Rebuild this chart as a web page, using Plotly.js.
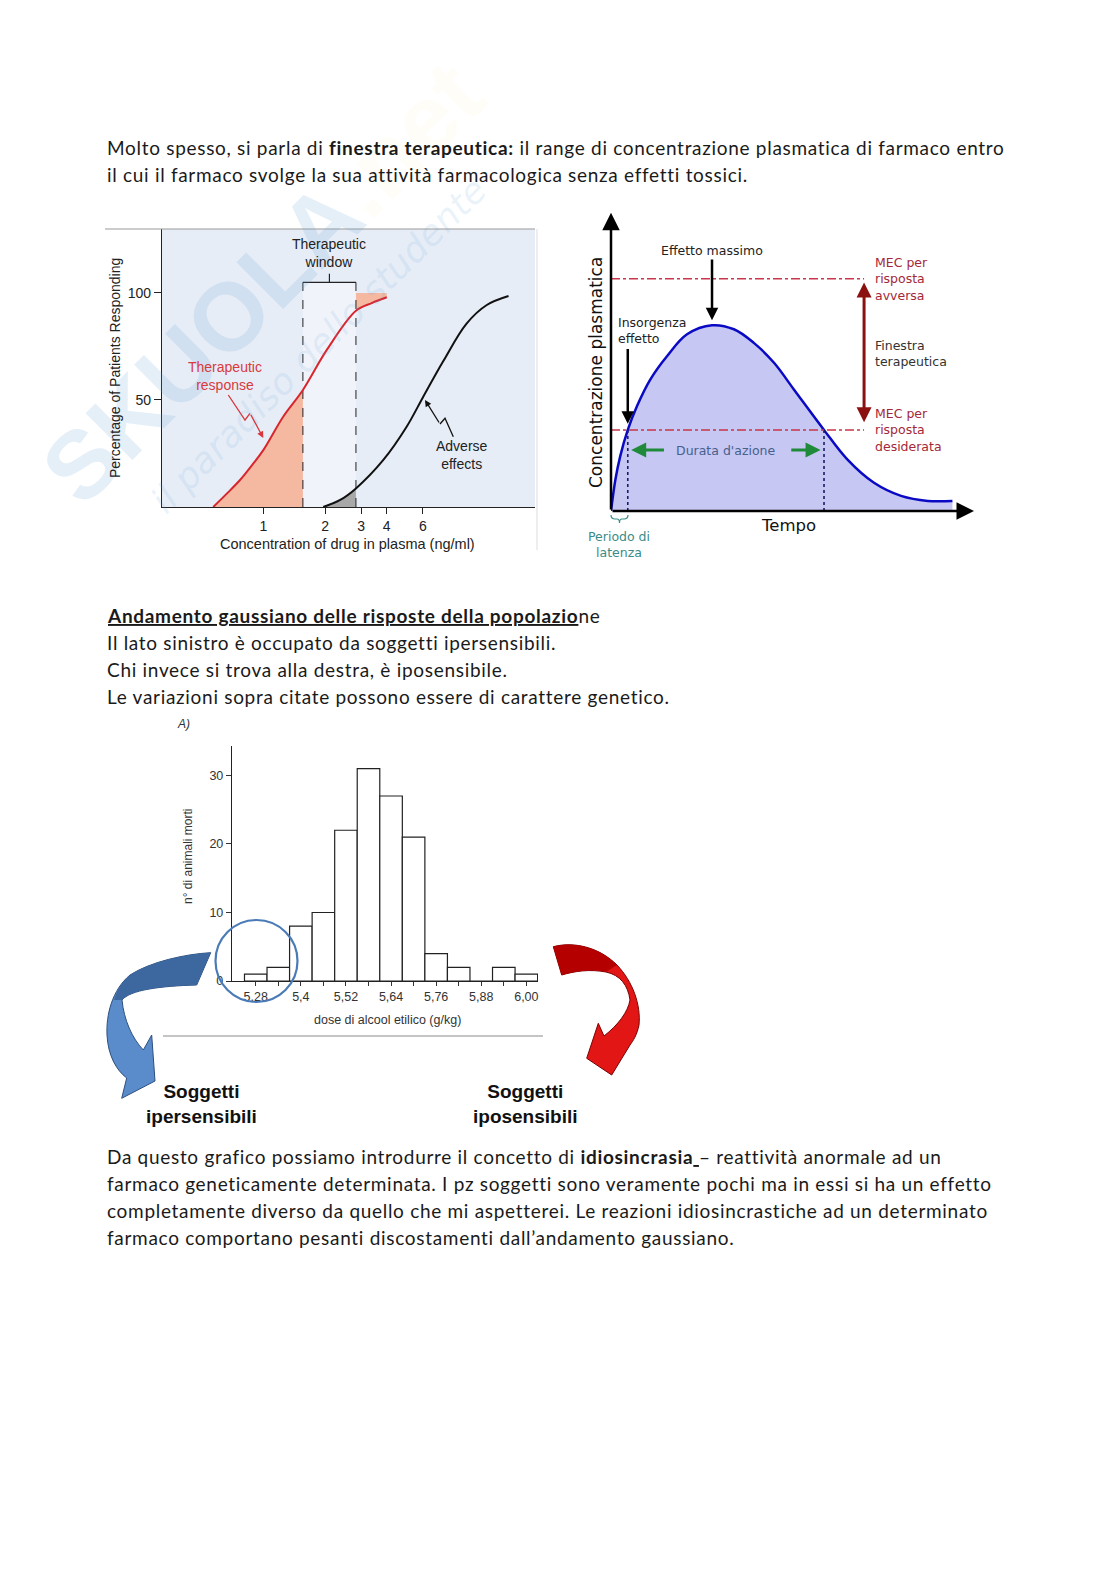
<!DOCTYPE html>
<html><head><meta charset="utf-8">
<script src="https://cdn.plot.ly/plotly-3.0.1.min.js"></script>
<style>html,body{margin:0;padding:0;background:#fff}#page{width:1116px;height:1579px}</style>
</head><body><div id="page"></div>
<script>
// ---------- Chart 1: therapeutic window ----------
const respConc = [0.57, 0.66, 0.77, 0.88, 1.0, 1.25, 1.56, 2.04, 2.83, 3.38, 4.0];
const respPct  = [0, 6, 12.6, 19.5, 26.6, 42.2, 54.7, 73.4, 91.7, 95.3, 98];
const advConc  = [1.96, 2.37, 2.83, 3.85, 5.0, 6.0, 7.55, 9.8, 12.3, 15.7];
const advPct   = [0, 3.3, 8.7, 22, 37.5, 51.2, 68.2, 85.7, 94.4, 98.6];
const windowLow = 1.56, windowHigh = 2.83;
const concTicks = [1, 2, 3, 4, 6];
const pctTicks = [50, 100];

// ---------- Chart 2: plasma concentration vs time ----------
const pkTime = [0, 0.13, 0.27, 0.49, 0.76, 1.15, 1.64, 2.22, 2.95, 3.59, 4.17, 4.76, 5.34, 6.22, 6.90, 7.68, 8.47, 9.25, 9.97];
const pkConc = [0, 1.26, 2.18, 3.22, 4.17, 5.23, 6.16, 7.02, 7.38, 7.22, 6.68, 5.89, 4.83, 3.22, 2.05, 1.12, 0.60, 0.40, 0.40];
const mecDesired = 3.22, mecAdverse = 9.23;
const onsetTime = 0.49, offsetTime = 6.22, peakTime = 2.95, peakConc = 7.38;

// ---------- Chart 3: histogram ----------
const doseBins = [5.28, 5.34, 5.40, 5.46, 5.52, 5.58, 5.64, 5.70, 5.76, 5.82, 5.88, 5.94, 6.00];
const deaths   = [1, 2, 8, 10, 22, 31, 27, 21, 4, 2, 0, 2, 1];
const doseLabels = ["5,28","","5,4","","5,52","","5,64","","5,76","","5,88","","6,00"];
const deathTicks = [0, 10, 20, 30];

// ---------- page text ----------
const para1 = ["Molto spesso, si parla di <b>finestra terapeutica:</b> il range di concentrazione plasmatica di farmaco entro",
               "il cui il farmaco svolge la sua attività farmacologica senza effetti tossici."];
const para2 = ["<b><u>Andamento gaussiano delle risposte della popolazio</u></b>ne",
               "Il lato sinistro è occupato da soggetti ipersensibili.",
               "Chi invece si trova alla destra, è iposensibile.",
               "Le variazioni sopra citate possono essere di carattere genetico."];
const para3 = ["Da questo grafico possiamo introdurre il concetto di <b>idiosincrasia</b><u> </u>– reattività anormale ad un",
               "farmaco geneticamente determinata. I pz soggetti sono veramente pochi ma in essi si ha un effetto",
               "completamente diverso da quello che mi aspetterei. Le reazioni idiosincrastiche ad un determinato",
               "farmaco comportano pesanti discostamenti dall’andamento gaussiano."];

const W = 1116, H = 1579;
const dx = p => p / W, dy = p => 1 - p / H;
const ARIAL = "Liberation Sans, Arial, sans-serif";
const DEJA = "DejaVu Sans, sans-serif";
const BODY = "Lato, Calibri, sans-serif";
const SX = 4, SY = 3; // offset of right-hand figure

const lowPart = respConc.map((c,i)=>[c,respPct[i]]).filter(d=>d[0] <= windowLow);
const highPart = respConc.map((c,i)=>[c,respPct[i]]).filter(d=>d[0] >= windowHigh);
const advLow = advConc.map((c,i)=>[c,advPct[i]]).filter(d=>d[0] <= windowHigh);
const gm = Math.sqrt(windowLow * windowHigh);
const lastResp = respConc[respConc.length-1];

const data = [
  {x:[0], y:[0], xaxis:'x', yaxis:'y', mode:'markers', marker:{opacity:0}, hoverinfo:'skip', showlegend:false},
  // chart 1
  {x:[windowLow, windowHigh, windowHigh, windowLow], y:[0,0,105,105], fill:'toself', fillcolor:'#f0f4fa',
   line:{width:0}, mode:'lines', xaxis:'x2', yaxis:'y2', showlegend:false, hoverinfo:'skip'},
  {x:lowPart.map(d=>d[0]), y:lowPart.map(d=>d[1]), fill:'tozeroy', fillcolor:'#f5b9a2', mode:'lines',
   line:{width:0, shape:'spline'}, xaxis:'x2', yaxis:'y2', showlegend:false, hoverinfo:'skip'},
  {x:highPart.map(d=>d[0]).concat([lastResp, windowHigh]), y:highPart.map(d=>d[1]).concat([100,100]),
   fill:'toself', fillcolor:'#f5b9a2', mode:'lines', line:{width:0}, xaxis:'x2', yaxis:'y2', showlegend:false, hoverinfo:'skip'},
  {x:advLow.map(d=>d[0]), y:advLow.map(d=>d[1]), fill:'tozeroy', fillcolor:'#a8a8a8', mode:'lines',
   line:{width:0, shape:'spline'}, xaxis:'x2', yaxis:'y2', showlegend:false, hoverinfo:'skip'},
  {x:[windowLow, windowLow, null, windowHigh, windowHigh], y:[0,105,null,0,105], mode:'lines',
   line:{color:'#222', width:1, dash:'dash'}, xaxis:'x2', yaxis:'y2', showlegend:false, hoverinfo:'skip'},
  {x:[windowLow, windowHigh, null, gm, gm], y:[105,105,null,105,109], mode:'lines',
   line:{color:'#222', width:1.2}, xaxis:'x2', yaxis:'y2', showlegend:false, hoverinfo:'skip'},
  {x:respConc, y:respPct, mode:'lines', line:{color:'#d8262e', width:2, shape:'spline'},
   xaxis:'x2', yaxis:'y2', showlegend:false, hoverinfo:'skip'},
  {x:advConc, y:advPct, mode:'lines', line:{color:'#111', width:2, shape:'spline'},
   xaxis:'x2', yaxis:'y2', showlegend:false, hoverinfo:'skip'},
  // chart 2
  {x:pkTime, y:pkConc, mode:'lines', fill:'tozeroy', fillcolor:'#c7c7f3', line:{color:'#0a0ac4', width:2.5, shape:'spline'},
   xaxis:'x3', yaxis:'y3', showlegend:false, hoverinfo:'skip'},
  {x:[onsetTime, onsetTime, null, offsetTime, offsetTime], y:[0, mecDesired, null, 0, mecDesired], mode:'lines',
   line:{color:'#1b1b66', width:1.6, dash:'dot'}, xaxis:'x3', yaxis:'y3', showlegend:false, hoverinfo:'skip'},
  // chart 3
  {type:'bar', x:doseBins, y:deaths, width:0.06, marker:{color:'#ffffff', line:{color:'#222', width:1.2}},
   xaxis:'x4', yaxis:'y4', showlegend:false, hoverinfo:'skip'}
];

const ann = [];
function txt(x, y, text, size, opts) {
  ann.push(Object.assign({xref:'x', yref:'y', x:x, y:y, text:text, showarrow:false,
    font:{family:ARIAL, size:size, color:'#222'}, xanchor:'center', yanchor:'middle'}, opts || {}));
}
function arrow(x, y, ax, ay, color, width, opts) {
  ann.push(Object.assign({xref:'x', yref:'y', axref:'x', ayref:'y', x:x, y:y, ax:ax, ay:ay, text:'',
    showarrow:true, arrowhead:2, arrowsize:1, arrowwidth:width, arrowcolor:color}, opts || {}));
}

// watermark
txt(262, 282, "SKUOLA<span style='color:rgba(240,220,90,0.30)'>.net</span>", 96,
    {font:{family:ARIAL, size:96, color:'rgba(100,160,215,0.17)', weight:'bold'}, textangle:-45});
txt(318, 345, "<i>il paradiso dello studente</i>", 36,
    {font:{family:DEJA, size:36, color:'rgba(100,160,215,0.14)'}, textangle:-45});

// body text
const sp = t => "<span style='letter-spacing:0.7px'>" + t + "</span>";
const bodyFont = {family:BODY, size:19, color:'#1a1a1a'};
para1.forEach((t,i)=>txt(105, 147 + i*27, sp(t), 19, {xanchor:'left', font:bodyFont}));
para2.forEach((t,i)=>txt(105, 615 + i*27, sp(t), 19, {xanchor:'left', font:bodyFont}));
para3.forEach((t,i)=>txt(105, 1156 + i*27.3, sp(t), 19, {xanchor:'left', font:bodyFont}));

// chart 1 text
txt(115, 368, "Percentage of Patients Responding", 14, {textangle:-90});
txt(347, 544, "Concentration of drug in plasma (ng/ml)", 14.5);
ann.push({xref:'x2', yref:'y2', x:Math.log10(gm), y:110, text:"Therapeutic<br>window", showarrow:false,
  yanchor:'bottom', font:{family:ARIAL, size:14, color:'#222'}});
txt(225, 376, "Therapeutic<br>response", 14, {font:{family:ARIAL, size:14, color:'#d83a3e'}});
txt(462, 455, "Adverse<br>effects", 14);

// chart 2 text
txt(592+SX, 370+SY, "Concentrazione plasmatica", 17, {textangle:-90, font:{family:DEJA, size:17, color:'#111'}});
txt(784+SX, 522+SY, "Tempo", 16.5, {font:{family:DEJA, size:16.5, color:'#111'}});
txt(615+SX, 541+SY, "Periodo di<br>latenza", 12.5, {font:{family:DEJA, size:12.5, color:'#3a8c88'}});
txt(708+SX, 247+SY, "Effetto massimo", 12.5, {font:{family:DEJA, size:12.5, color:'#222'}});
txt(612+SX, 327+SY, "Insorgenza<br>effetto", 12.5, {xanchor:'left', align:'left', font:{family:DEJA, size:12.5, color:'#222'}});
txt(869+SX, 276+SY, "MEC per<br>risposta<br>avversa", 12.5, {xanchor:'left', align:'left', font:{family:DEJA, size:12.5, color:'#a3283a'}});
txt(869+SX, 350+SY, "Finestra<br>terapeutica", 12.5, {xanchor:'left', align:'left', font:{family:DEJA, size:12.5, color:'#333'}});
txt(869+SX, 427+SY, "MEC per<br>risposta<br>desiderata", 12.5, {xanchor:'left', align:'left', font:{family:DEJA, size:12.5, color:'#a3283a'}});
ann.push({xref:'x3', yref:'y3', x:(onsetTime+offsetTime)/2, y:mecDesired-0.8, text:"Durata d'azione", showarrow:false,
  font:{family:DEJA, size:12.5, color:'#46618c'}});

function arr3(x, y, ax, ay, color, width, opts) {
  ann.push(Object.assign({xref:'x3', yref:'y3', axref:'x3', ayref:'y3', x:x, y:y, ax:ax, ay:ay, text:'',
    showarrow:true, arrowhead:2, arrowsize:1, arrowwidth:width, arrowcolor:color}, opts || {}));
}
arr3(0, 11.85, 0, 0, '#000', 2.5, {arrowsize:1.4});
arr3(10.6, 0, 0, 0, '#000', 2.5, {arrowsize:1.4});
arr3(peakTime, peakConc + 0.2, peakTime, 10.05, '#000', 2.5);
arr3(onsetTime, mecDesired + 0.25, onsetTime, 6.5, '#000', 2.5);
arr3(7.39, mecAdverse - 0.15, 7.39, mecDesired + 0.25, '#8b1010', 3, {arrowside:'end+start'});
arr3(onsetTime + 0.1, mecDesired - 0.8, onsetTime + 1.1, mecDesired - 0.8, '#1f8a3a', 3);
arr3(offsetTime - 0.1, mecDesired - 0.8, offsetTime - 1.0, mecDesired - 0.8, '#1f8a3a', 3);

// chart 1 lightning arrows
arrow(263.3, 438, 250, 413.3, '#d8363c', 1.3);
arrow(425, 400, 440, 424, '#111', 1.3);

// chart 3 text
txt(188, 856, "n° di animali morti", 12, {textangle:-90, font:{family:ARIAL, size:12, color:'#333'}});
txt(387, 1020, "dose di alcool etilico (g/kg)", 12.5, {font:{family:ARIAL, size:12.5, color:'#333'}});
txt(183, 724, "<i>A)</i>", 12, {font:{family:ARIAL, size:12, color:'#333'}});
txt(201, 1104, "<b>Soggetti<br>ipersensibili</b>", 19, {font:{family:ARIAL, size:19, color:'#111'}});
txt(525, 1104, "<b>Soggetti<br>iposensibili</b>", 19, {font:{family:ARIAL, size:19, color:'#111'}});

const shapes = [
  {type:'rect', xref:'x2 domain', yref:'y2 domain', x0:0, x1:1, y0:0, y1:1, fillcolor:'#e6edf6', line:{width:0}, layer:'below'},
  {type:'line', xref:'x', yref:'y', x0:105, x1:535, y0:229, y1:229, line:{color:'#999', width:1}},
  {type:'line', xref:'x', yref:'y', x0:537, x1:537, y0:229, y1:550, line:{color:'#ddd', width:1}},
  {type:'path', xref:'x', yref:'y', path:'M228.3,395 L245,420 L250,413.3', line:{color:'#d8363c', width:1.3}},
  {type:'path', xref:'x', yref:'y', path:'M453.3,436.7 L445,418.3 L440,424', line:{color:'#111', width:1.3}},
  {type:'line', xref:'x3', yref:'y3', x0:0, x1:7.39, y0:mecAdverse, y1:mecAdverse, line:{color:'#c8364a', width:1.5, dash:'dashdot'}},
  {type:'line', xref:'x3', yref:'y3', x0:0, x1:7.39, y0:mecDesired, y1:mecDesired, line:{color:'#c8364a', width:1.5, dash:'dashdot'}},
  {type:'path', xref:'x', yref:'y',
   path:'M611,515 Q611,519 615,519 L617,519 Q619.5,519 619.5,523 Q619.5,519 622,519 L624,519 Q628,519 628,515',
   line:{color:'#3a8c88', width:1.2}},
  {type:'line', xref:'x', yref:'y', x0:163, x1:543, y0:1036, y1:1036, line:{color:'#8a8a8a', width:1}},
  {type:'circle', xref:'x', yref:'y', x0:215.5, x1:297.5, y0:920, y1:1002, line:{color:'#4a7bb7', width:2.2}},
  {type:'path', xref:'x', yref:'y', fillcolor:'#5a8ccc', line:{color:'#2d4f7c', width:1},
   path:'M210.7,952.7 C185,954 150,962 130,975 C112,990 106,1015 107,1035 C108,1055 116,1070 126.7,1078 L121.7,1098.3 L155,1081 L151.7,1035 L143.3,1050 C132,1038 124,1020 122,1000 C130,990 160,986 196.7,985 Z'},
  {type:'path', xref:'x', yref:'y', fillcolor:'#3d679f', line:{width:0},
   path:'M210.7,952.7 C185,954 150,962 130,975 C122,982 117,990 114,1000 L122,1000 C130,990 160,986 196.7,985 Z'},
  {type:'path', xref:'x', yref:'y', fillcolor:'#e31616', line:{color:'#7a0000', width:1},
   path:'M553.3,946.7 C575,941 600,948 617,965 C633,982 641,1005 639,1025 C637,1035 633,1041 630,1045 L611.7,1075 L586.7,1058.3 L598.3,1023.3 L604,1036 C618,1025 628,1012 630,1000 C628,985 620,975 606,972 C590,969 575,971 561.7,975 Z'},
  {type:'path', xref:'x', yref:'y', fillcolor:'#b50000', line:{width:0},
   path:'M553.3,946.7 C575,941 600,948 617,965 L606,972 C590,969 575,971 561.7,975 Z'}
];

const tickFont = {family:ARIAL, size:14, color:'#222'};
const layout = {
  width:W, height:H, margin:{l:0, r:0, t:0, b:0},
  paper_bgcolor:'#ffffff', plot_bgcolor:'rgba(0,0,0,0)',
  showlegend:false,
  xaxis:{domain:[0,1], range:[0,W], visible:false, fixedrange:true},
  yaxis:{domain:[0,1], range:[H,0], visible:false, fixedrange:true},
  xaxis2:{domain:[dx(162), dx(535)], anchor:'y2', type:'log', range:[-0.494, 1.325],
    tickvals:concTicks, ticktext:concTicks.map(String), ticks:'outside', ticklen:6, tickcolor:'#222',
    showline:true, linecolor:'#222', linewidth:1.2, showgrid:false, zeroline:false, tickfont:tickFont},
  yaxis2:{domain:[dy(507), dy(229)], anchor:'x2', range:[0, 129.9], tickvals:pctTicks,
    ticks:'outside', ticklen:7, tickcolor:'#222', showline:true, linecolor:'#222', linewidth:1.2,
    showgrid:false, zeroline:false, tickfont:tickFont},
  xaxis3:{domain:[dx(607+SX), dx(970+SX)], anchor:'y3', range:[0, 10.6], visible:false},
  yaxis3:{domain:[dy(508+SY), dy(211+SY)], anchor:'x3', range:[0, 11.8], visible:false},
  xaxis4:{domain:[dx(232), dx(538)], anchor:'y4', range:[5.2168, 6.031], tickvals:doseBins, ticktext:doseLabels,
    ticks:'outside', ticklen:4, tickcolor:'#333', showline:true, linecolor:'#222', linewidth:1.2,
    showgrid:false, zeroline:false, tickfont:{family:ARIAL, size:12.5, color:'#333'}},
  yaxis4:{domain:[dy(981), dy(746)], anchor:'x4', range:[0, 34.3], tickvals:deathTicks,
    ticks:'outside', ticklen:5, tickcolor:'#333', showline:true, linecolor:'#222', linewidth:1.2,
    showgrid:false, zeroline:false, tickfont:{family:ARIAL, size:12.5, color:'#333'}},
  shapes:shapes,
  annotations:ann
};

Plotly.newPlot('page', data, layout, {staticPlot:true, displayModeBar:false});
</script>
</body></html>
